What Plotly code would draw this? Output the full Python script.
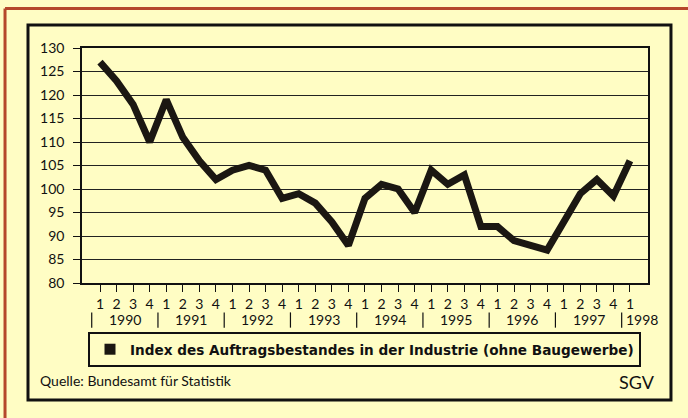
import plotly.graph_objects as go

# Quarterly index values 1990 Q1 .. 1998 Q1
quarters = ["1", "2", "3", "4"] * 8 + ["1"]
years = ["1990", "1991", "1992", "1993", "1994", "1995", "1996", "1997", "1998"]
index_values = [127, 123, 118, 110,
                119, 111, 106, 102,
                104, 105, 104, 98,
                99, 97, 93, 88,
                98, 101, 100, 95,
                104, 101, 103, 92,
                92, 89, 88, 87,
                93, 99, 102, 98.5,
                106]
series_name = "Index des Auftragsbestandes in der Industrie (ohne Baugewerbe)"
source_text = "Quelle: Bundesamt für Statistik"
brand_text = "SGV"

BG = "#FFFDC4"
INK = "#1b1712"
FONT = "Lato"

xs = list(range(len(index_values)))

fig = go.Figure()
fig.add_trace(go.Scatter(
    x=xs, y=index_values, mode="lines",
    line=dict(color=INK, width=7),
    showlegend=False, hoverinfo="skip"))
# legend entry (square swatch as in original)
fig.add_trace(go.Scatter(
    x=[None], y=[None], mode="markers", name=series_name,
    marker=dict(symbol="square", size=11, color=INK)))

fig.update_layout(
    width=688, height=418,
    margin=dict(l=82, r=40, t=48, b=135),
    paper_bgcolor=BG, plot_bgcolor=BG,
    font=dict(family=FONT, size=14, color="#111"),
    legend=dict(
        orientation="h", x=0.0106, y=-0.208, xanchor="left", yanchor="top",
        bgcolor="rgba(0,0,0,0)", bordercolor="#111", borderwidth=2,
        font=dict(family="DejaVu Sans", size=13.6, color="#111", weight="bold"),
        itemwidth=30, tracegroupgap=0),
)

fig.update_xaxes(
    range=[-1.087, 33.09],
    tickmode="array", tickvals=xs, ticktext=quarters,
    ticks="outside", ticklen=7, tickwidth=1.2, tickcolor="#111",
    showline=True, linecolor="#111", linewidth=1.5, mirror=True,
    showgrid=False, zeroline=False,
    tickfont=dict(size=14, family=FONT))
fig.update_yaxes(
    range=[80, 130],
    tickmode="array", tickvals=list(range(80, 131, 5)),
    ticks="outside", ticklen=7, tickwidth=1.2, tickcolor="#111",
    ticklabelstandoff=6,
    showline=True, linecolor="#111", linewidth=1.5, mirror=True,
    showgrid=True, gridcolor="#222", gridwidth=1.2, zeroline=False,
    tickfont=dict(size=14, family=FONT))

# year labels and separators
for i, yr in enumerate(years):
    if i < len(years) - 1:
        cx, anchor = 4 * i + 1.5, "center"
    else:
        cx, anchor = 4 * i - 0.35, "left"
    fig.add_annotation(x=cx, y=-0.157, xref="x", yref="paper",
                       xanchor=anchor, yanchor="middle",
                       text=yr, showarrow=False,
                       font=dict(size=14, family=FONT, color="#111"))
    fig.add_shape(type="line", xref="x", yref="paper",
                  x0=4 * i - 0.5, x1=4 * i - 0.5, y0=-0.125, y1=-0.19,
                  line=dict(color="#111", width=1.2))

fig.add_annotation(x=-0.0777, y=-0.417, xref="paper", yref="paper",
                   xanchor="left", yanchor="middle", text=source_text,
                   showarrow=False, font=dict(size=14, family=FONT, color="#111"))
fig.add_annotation(x=1.0159, y=-0.42, xref="paper", yref="paper",
                   xanchor="right", yanchor="middle", text=brand_text,
                   showarrow=False, font=dict(size=18, family=FONT, color="#111"))

# outer black frame
fig.add_shape(type="rect", xref="paper", yref="paper",
              x0=-0.0954, x1=1.0406, y0=-0.498, y1=1.098,
              line=dict(color="#111", width=3), layer="below")
# red-brown page edge (top and left)
fig.add_shape(type="line", xref="paper", yref="paper",
              x0=-0.136, x1=1.13, y0=1.168, y1=1.168,
              line=dict(color="#B5482B", width=3))
fig.add_shape(type="line", xref="paper", yref="paper",
              x0=-0.136, x1=-0.136, y0=1.168, y1=-0.6,
              line=dict(color="#B5482B", width=3))

fig.write_html("out.html",
               config={"displayModeBar": False},
               post_script="document.body.style.margin='0';document.body.style.overflow='hidden';")
